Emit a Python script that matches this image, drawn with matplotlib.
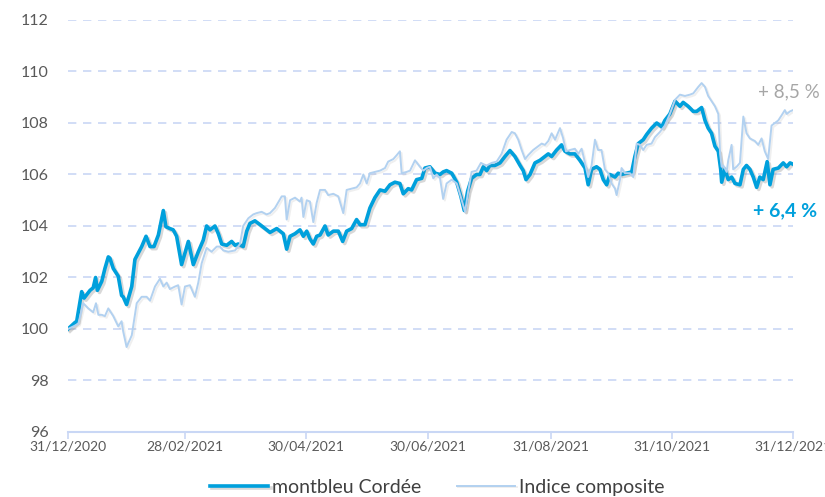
import matplotlib
matplotlib.use("Agg")
import matplotlib.pyplot as plt
import matplotlib.dates as mdates
import matplotlib.patheffects as pe
import pandas as pd

plt.rcParams['font.family'] = ['Lato', 'DejaVu Sans']

# days since 31/12/2020 and base-100 values
fund_days = [0, 3.5, 4.4, 6.9, 8.1, 11.1, 12.7, 13.9, 14.8, 17.0, 18.6, 20.3, 21.1, 22.8, 25.3,
             27.0, 27.8, 29.5, 32.1, 33.7, 37.1, 39.3, 41.3, 43.3, 45.5, 48.0, 49.3, 51.3, 53.0,
             54.7, 57.2, 58.9, 60.6, 63.1, 65.6, 68.1, 69.8, 71.5, 74.0, 75.7, 77.4, 79.9, 82.4,
             84.1, 85.7, 88.2, 90.0, 91.6, 94.1, 96.7, 99.2, 101.7, 105.1, 108.4, 110.1, 111.8,
             114.3, 116.8, 118.5, 120.2, 121.8, 123.5, 125.2, 126.9, 129.4, 131.0, 133.6, 136.1,
             138.3, 140.3, 142.8, 145.3, 147.0, 149.5, 152.0, 154.5, 157.1, 159.6, 162.1, 164.6,
             167.1, 168.8, 171.3, 173.0, 175.5, 178.1, 179.7, 182.2, 184.8, 187.3, 188.9, 190.6,
             193.2, 195.7, 197.8, 199.5, 201.2, 203.2, 205.7, 207.4, 209.1, 210.8, 212.4, 214.9,
             217.5, 220.0, 222.5, 225.0, 227.6, 229.2, 230.6, 232.6, 235.1, 237.6, 240.1, 241.8,
             243.5, 246.0, 248.5, 250.2, 252.7, 255.2, 257.7, 260.3, 261.9, 263.6, 266.1, 267.8,
             269.5, 271.2, 272.8, 275.4, 277.0, 278.7, 281.3, 283.8, 285.4, 287.1, 289.6, 291.3,
             293.8, 296.4, 298.9, 300.5, 303.0, 305.6, 308.1, 309.7, 312.2, 314.8, 316.5, 319.0,
             320.7, 322.3, 324.0, 325.7, 327.4, 328.6, 329.1, 330.7, 332.4, 334.1, 335.8, 338.3,
             340.0, 341.6, 343.3, 345.0, 346.7, 348.3, 350.0, 352.0, 353.4, 355.0, 357.6, 360.1,
             361.8, 363.5, 365.0]
fund_vals = [100.0, 100.25, 100.3, 101.45, 101.2, 101.5, 101.6, 102.0, 101.5, 101.85, 102.35,
             102.8, 102.75, 102.35, 102.05, 101.3, 101.25, 100.95, 101.65, 102.7, 103.2, 103.6,
             103.2, 103.2, 103.65, 104.6, 103.97, 103.9, 103.85, 103.6, 102.5, 102.95, 103.4,
             102.5, 103.0, 103.45, 104.0, 103.85, 104.0, 103.7, 103.3, 103.25, 103.4, 103.25,
             103.3, 103.2, 103.8, 104.1, 104.2, 104.05, 103.9, 103.75, 103.9, 103.7, 103.1, 103.6,
             103.7, 103.85, 103.6, 103.8, 103.5, 103.3, 103.6, 103.65, 104.0, 103.65, 103.8,
             103.8, 103.4, 103.8, 103.9, 104.25, 104.05, 104.05, 104.7, 105.1, 105.4, 105.35,
             105.6, 105.7, 105.65, 105.25, 105.45, 105.4, 105.8, 105.85, 106.25, 106.3, 106.05,
             106.0, 106.1, 106.15, 106.05, 105.7, 105.15, 104.6, 105.35, 105.85, 106.0, 106.0,
             106.3, 106.15, 106.35, 106.35, 106.45, 106.7, 106.93, 106.7, 106.35, 106.15, 105.8,
             106.0, 106.45, 106.55, 106.7, 106.8, 106.7, 106.95, 107.15, 106.9, 106.8, 106.8,
             106.55, 106.25, 105.6, 106.2, 106.3, 106.2, 105.8, 105.6, 106.0, 105.9, 106.05,
             106.0, 106.05, 106.1, 106.7, 107.2, 107.35, 107.55, 107.8, 108.0, 107.85, 108.1,
             108.35, 108.85, 108.65, 108.8, 108.65, 108.45, 108.45, 108.6, 108.1, 107.8, 107.6,
             107.1, 106.9, 106.2, 105.7, 106.2, 105.8, 105.9, 105.65, 105.6, 106.2, 106.35,
             106.2, 105.9, 105.5, 105.9, 105.8, 106.5, 105.6, 106.2, 106.25, 106.45, 106.3,
             106.45, 106.4]

index_days = [0, 2.7, 5.2, 7.7, 10.2, 12.7, 14.1, 15.3, 17.0, 18.6, 20.3, 22.8, 25.3, 27.0, 27.8,
              29.5, 32.1, 34.6, 37.1, 39.6, 41.3, 43.8, 46.3, 48.0, 49.7, 51.3, 53.9, 55.5, 57.2,
              58.9, 61.4, 63.9, 65.6, 67.3, 69.8, 72.3, 74.9, 76.5, 78.2, 80.7, 84.1, 86.6, 88.2,
              90.8, 93.3, 95.0, 97.5, 100.0, 101.7, 104.2, 107.6, 109.2, 110.1, 111.8, 114.3,
              116.8, 117.6, 118.5, 120.2, 121.8, 123.5, 125.2, 126.9, 129.4, 131.0, 133.6, 136.1,
              138.6, 140.3, 142.8, 145.3, 147.0, 148.7, 150.4, 152.0, 154.5, 157.1, 159.6, 161.2,
              163.8, 165.5, 167.1, 168.0, 170.5, 172.2, 174.7, 177.2, 178.9, 180.6, 182.2, 183.9,
              185.6, 187.3, 188.9, 190.6, 193.2, 195.7, 197.3, 199.0, 199.9, 201.5, 203.2, 205.7,
              207.9, 209.1, 210.8, 213.3, 215.8, 218.3, 220.8, 223.4, 225.0, 226.7, 228.4, 230.1,
              231.7, 234.2, 236.8, 238.5, 240.1, 241.8, 243.5, 245.2, 247.7, 249.3, 250.7, 252.7,
              255.2, 256.9, 258.6, 260.3, 261.9, 263.6, 265.3, 266.9, 268.6, 270.3, 272.0, 273.7,
              275.4, 276.2, 277.9, 278.7, 280.4, 282.9, 284.6, 286.3, 287.9, 289.6, 291.3, 293.8,
              295.5, 298.0, 300.5, 303.0, 305.6, 308.1, 310.6, 313.1, 314.8, 317.3, 319.0, 320.7,
              322.3, 324.0, 325.7, 327.4, 328.3, 329.1, 329.9, 331.6, 332.4, 334.1, 334.9, 336.6,
              338.3, 340.0, 341.6, 343.3, 345.8, 347.5, 349.2, 350.8, 352.5, 354.2, 355.9, 357.6,
              359.3, 360.9, 361.8, 363.5, 365.0]
index_vals = [100.0, 100.1, 100.2, 101.0, 100.8, 100.65, 101.0, 100.55, 100.55, 100.5, 100.8,
              100.5, 100.1, 100.3, 99.9, 99.3, 99.75, 101.0, 101.25, 101.25, 101.1, 101.65,
              101.95, 101.65, 101.8, 101.55, 101.65, 101.7, 100.95, 101.65, 101.7, 101.25, 101.8,
              102.55, 103.15, 103.0, 103.2, 103.2, 103.05, 103.0, 103.05, 103.3, 104.0, 104.3,
              104.45, 104.5, 104.55, 104.45, 104.5, 104.7, 105.15, 105.15, 104.25, 105.0, 105.1,
              104.95, 105.1, 104.35, 105.0, 104.95, 104.15, 104.9, 105.4, 105.4, 105.2, 105.25,
              105.15, 104.5, 105.4, 105.45, 105.5, 105.65, 106.0, 105.65, 106.05, 106.1, 106.15,
              106.25, 106.5, 106.6, 106.75, 106.9, 106.05, 106.1, 106.15, 106.55, 106.3, 106.15,
              106.25, 106.3, 105.85, 106.0, 105.85, 105.05, 105.65, 105.8, 105.65, 105.25, 104.8,
              104.55, 105.35, 106.1, 106.15, 106.45, 106.4, 106.35, 106.45, 106.5, 106.8, 107.35,
              107.65, 107.6, 107.35, 106.95, 106.6, 106.75, 106.95, 107.1, 107.2, 107.15, 107.3,
              107.6, 107.35, 107.8, 107.4, 106.9, 106.95, 107.0, 106.8, 107.0, 106.45, 105.9,
              106.35, 107.35, 106.95, 106.95, 106.2, 106.05, 105.65, 105.45, 105.2, 105.8, 106.25,
              106.05, 106.05, 105.9, 107.2, 107.15, 106.95, 107.15, 107.2, 107.45, 107.65, 107.9,
              108.35, 108.9, 109.1, 109.05, 109.1, 109.15, 109.4, 109.55, 109.4, 109.05, 108.85,
              108.65, 108.35, 106.8, 106.3, 106.35, 106.1, 106.55, 107.15, 106.2, 106.3, 106.45,
              108.25, 107.6, 107.4, 107.3, 107.15, 107.4, 106.9, 106.6, 107.9, 108.0, 108.1,
              108.3, 108.5, 108.35, 108.45, 108.5]

series_names = ['montbleu Cordée', 'Indice composite']
perf_labels = ['+ 8,5 %', '+ 6,4 %']
y_ticks = [96, 98, 100, 102, 104, 106, 108, 110, 112]
x_tick_dates = ['2020-12-31', '2021-02-28', '2021-04-30', '2021-06-30',
                '2021-08-31', '2021-10-31', '2021-12-31']

start = pd.Timestamp('2020-12-31')
fund_dates = start + pd.to_timedelta(fund_days, unit='D')
index_dates = start + pd.to_timedelta(index_days, unit='D')

fund_color = '#00a0dc'
index_color = '#b2d1f0'
grid_color = '#c9d7f5'
text_grey = '#595959'

fig = plt.figure(figsize=(8.25, 4.97), dpi=100)
ax = fig.add_axes([0.0824, 0.1308, 0.8788, 0.829])

fund_fx = [pe.SimpleLineShadow(offset=(1.5, -1.5), shadow_color='#7f7f7f', alpha=0.3), pe.Normal()]
index_fx = [pe.SimpleLineShadow(offset=(1.2, -1.2), shadow_color='#7f7f7f', alpha=0.12), pe.Normal()]
ax.plot(fund_dates, fund_vals, color=fund_color, lw=2.6, solid_joinstyle='round',
        label=series_names[0], path_effects=fund_fx, zorder=3)
ax.plot(index_dates, index_vals, color=index_color, lw=1.4, solid_joinstyle='round',
        label=series_names[1], path_effects=index_fx, zorder=4)

ax.set_ylim(96, 112)
ax.set_yticks(y_ticks)
ax.set_xlim(start, pd.Timestamp('2021-12-31'))
ax.set_xticks(pd.to_datetime(x_tick_dates))
ax.xaxis.set_major_formatter(mdates.DateFormatter('%d/%m/%Y'))

for v in y_ticks[1:]:
    ax.axhline(v, color=grid_color, lw=1.2, dashes=(5, 4), zorder=1)

for s in ['top', 'right', 'left']:
    ax.spines[s].set_visible(False)
ax.spines['bottom'].set_color(grid_color)
ax.spines['bottom'].set_linewidth(1.5)
ax.tick_params(axis='x', colors=grid_color, length=5, width=1.2, labelcolor=text_grey,
               labelsize=10, pad=1)
ax.tick_params(axis='y', length=0, labelcolor=text_grey, labelsize=11.5, pad=14)

ax.text(start + pd.Timedelta(days=347.5), 109.2, perf_labels[0],
        color='#a6a6a6', fontsize=13.5, va='center', ha='left', clip_on=False)
ax.text(start + pd.Timedelta(days=345), 104.6, perf_labels[1],
        color=fund_color, fontsize=14, fontweight='bold', va='center', ha='left', clip_on=False)

fig.legend(loc='center', bbox_to_anchor=(0.53, 0.02), ncol=2, frameon=False,
           handlelength=3.0, fontsize=14, labelcolor='#404040', columnspacing=1.8,
           handletextpad=0.2, borderaxespad=0)

fig.savefig('out.png', dpi=100)
